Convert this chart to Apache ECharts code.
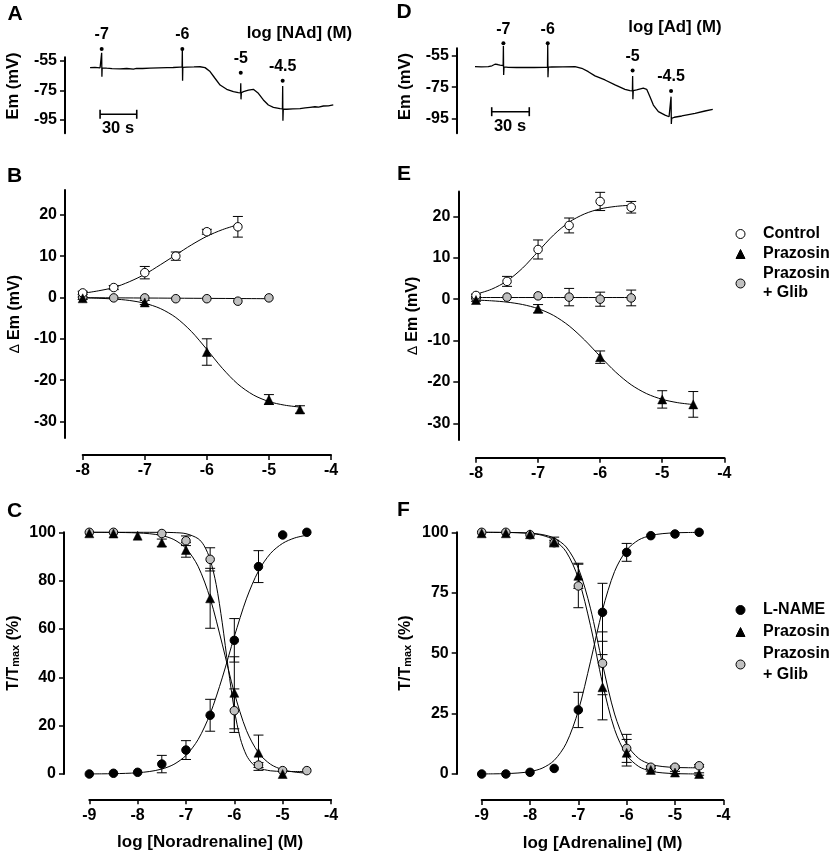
<!DOCTYPE html>
<html><head><meta charset="utf-8">
<script src="https://cdn.jsdelivr.net/npm/echarts@6/dist/echarts.min.js"></script>
<style>html,body{margin:0;padding:0;background:#fff}#c{width:833px;height:855px}</style>
</head><body><div id="c"></div>
<script>
// ---------- Panel A: membrane potential trace (noradrenaline) ----------
const traceA = [[0,-59.5],[4,-59.3],[8.2,-59.6],[9.3,-59.5],[9.5,-49.4],[9.7,-65.6],[9.9,-59.6],[13.6,-59.9],[18,-60.2],[24.5,-60.4],[30,-60.1],[35.5,-60.5],[38,-60.0],[43,-60.1],[49,-59.9],[56,-59.7],[63,-59.5],[68,-59.4],[73.6,-59.1],[75.3,-59.2],[75.5,-47.5],[75.7,-68.4],[75.9,-59.3],[79.1,-59.1],[85,-59.0],[90,-58.9],[94.1,-59.5],[98.2,-62.2],[102.2,-66.7],[106.4,-71.3],[111.8,-74.2],[117.3,-75.8],[121.3,-76.5],[123.1,-76.6],[123.3,-70.1],[123.5,-81.0],[123.8,-76.5],[125.5,-75.8],[129.6,-74.7],[133.6,-74.2],[137.7,-76.9],[141.8,-81.4],[145.9,-84.8],[150,-86.4],[155.5,-87.3],[157.4,-87.4],[157.6,-72.0],[157.8,-95.5],[158.1,-87.6],[160.9,-87.7],[166,-87.5],[171.8,-87.3],[176,-86.8],[180,-86.4],[184,-86.0],[187,-86.3],[190.9,-85.5],[195,-85.4],[199,-84.8]];
const injTimesA = [9.5, 75.5, 123.3, 157.6];
const injDotA = [-46.9, -46.9, -62.9, -68.4];
const injLabels = ['-7', '-6', '-5', '-4.5'];
const scaleBarA = [[8.2, -91.1], [38.2, -91.1]];
const emTicks = [-55, -75, -95];

// ---------- Panel D: membrane potential trace (adrenaline) ----------
const traceD = [[0,-61.9],[5,-62.0],[10.6,-61.9],[13.5,-61.3],[15.9,-60.3],[18,-60.5],[19.9,-60.9],[22.4,-61.2],[22.6,-48.6],[22.8,-67.2],[23.1,-62.0],[26.5,-62.3],[33,-62.4],[39.8,-62.3],[47,-62.4],[55.7,-62.3],[57.7,-62.3],[57.9,-47.9],[58.1,-68.7],[58.4,-62.2],[61.1,-62.1],[70,-62.0],[79.6,-61.9],[85,-62.9],[90.2,-65.1],[95.5,-67.8],[103.5,-70.4],[111.5,-73.6],[119.4,-76.4],[123.4,-77.3],[125.3,-77.4],[125.5,-67.8],[125.7,-82.8],[126,-77.3],[128.7,-76.8],[134,-75.7],[136.7,-76.4],[139.3,-81.1],[142,-86.5],[146,-90.7],[151.3,-92.9],[154.5,-94.0],[155.9,-94.1],[156.1,-81.1],[156.3,-98.6],[156.6,-95.0],[158.7,-94.3],[164.6,-93.5],[170,-92.6],[175.2,-91.8],[183.1,-90.3],[189.3,-89.2]];
const injTimesD = [22.6, 57.9, 125.5, 156.1];
const injDotD = [-46.85, -46.85, -64.4, -77.5];
const scaleBarD = [[13.3, -90.75], [43.2, -90.75]];

// ---------- Panel B: ΔEm, noradrenaline ----------
const bX_control = [-8,-7.5,-7,-6.5,-6,-5.5];
const bY_control = [1.1,2.4,6.0,10.0,15.9,17.1];
const bE_control = [0.4,0.5,1.5,1.0,0.6,2.5];
const bX_praz = [-8,-7,-6,-5,-4.5];
const bY_praz = [-0.2,-1.2,-13.2,-24.7,-27.1];
const bE_praz = [0.3,0.5,3.2,1.2,0.9];
const bX_glib = [-8,-7.5,-7,-6.5,-6,-5.5,-5];
const bY_glib = [0.0,-0.1,-0.1,-0.3,-0.3,-0.9,-0.1];
const bE_glib = [0,0,0,0,0,0,0];
const bFitX_control = [-8,-7.75,-7.5,-7.25,-7,-6.75,-6.5,-6.25,-6,-5.75,-5.5];
const bFitY_control = [1.0,1.6,2.4,3.8,5.6,7.9,10.3,12.7,14.8,16.4,17.6];
const bFitX_praz = [-8,-7.75,-7.5,-7.25,-7,-6.75,-6.5,-6.25,-6,-5.75,-5.5,-5.25,-5,-4.75,-4.5];
const bFitY_praz = [-0.09,-0.19,-0.37,-0.72,-1.41,-2.67,-4.85,-8.21,-12.57,-17.14,-20.96,-23.59,-25.18,-26.05,-26.52];
const bFitX_glib = [-8,-5];
const bFitY_glib = [-0.05,-0.3];

// ---------- Panel E: ΔEm, adrenaline ----------
const eX_control = [-8,-7.5,-7,-6.5,-6,-5.5];
const eY_control = [0.9,4.3,12.0,17.8,23.6,22.2];
const eE_control = [0.3,1.2,2.3,1.8,2.2,1.4];
const eX_praz = [-8,-7,-6,-5,-4.5];
const eY_praz = [-0.2,-2.3,-14.0,-24.2,-25.4];
const eE_praz = [0.3,1.0,1.5,2.1,3.1];
const eX_glib = [-8,-7.5,-7,-6.5,-6,-5.5];
const eY_glib = [0.3,0.5,0.8,0.5,0.0,0.3];
const eE_glib = [0,0,0,2.1,1.7,1.9];
const eFitX_control = [-8,-7.75,-7.5,-7.25,-7,-6.75,-6.5,-6.25,-6,-5.75,-5.5];
const eFitY_control = [1.2,2.4,4.4,7.5,11.5,15.5,18.6,20.6,21.8,22.4,22.7];
const eFitX_praz = [-8,-7.75,-7.5,-7.25,-7,-6.75,-6.5,-6.25,-6,-5.75,-5.5,-5.25,-5,-4.75,-4.5];
const eFitY_praz = [-0.21,-0.39,-0.71,-1.29,-2.28,-3.93,-6.45,-9.86,-13.80,-17.60,-20.67,-22.82,-24.18,-24.99,-25.44];
const eFitX_glib = [-8,-5.5];
const eFitY_glib = [0.4,0.4];

// ---------- Panel C: tension, noradrenaline ----------
const cX_lname = [-9,-8.5,-8,-7.5,-7,-6.5,-6,-5.5,-5,-4.5];
const cY_lname = [0.0,0.3,0.7,4.1,9.9,24.3,55.3,85.8,98.9,100.0];
const cE_lname = [0,0,0,3.6,3.9,6.6,9.0,6.6,0,0];
const cX_praz = [-9,-8.5,-8,-7.5,-7,-6.5,-6,-5.5,-5];
const cY_praz = [99.6,99.5,98.6,95.7,92.7,72.7,33.6,8.8,0.0];
const cE_praz = [0,0,0,1.5,3.0,12.4,14.9,7.3,0];
const cX_glib = [-9,-8.5,-7.5,-7,-6.5,-6,-5.5,-5,-4.5];
const cY_glib = [100,100,99.5,96.5,88.8,26.2,3.7,1.4,1.4];
const cE_glib = [0,0,0,2.0,4.8,9.0,1.0,0,0];
const fitX_q = [-9,-8.75,-8.5,-8.25,-8,-7.75,-7.5,-7.25,-7,-6.75,-6.5,-6.25,-6,-5.75,-5.5,-5.25,-5,-4.75,-4.5];
const cFitY_lname = [0.03,0.07,0.13,0.26,0.52,1.04,2.05,4.00,7.68,14.23,24.87,39.78,56.86,72.46,84.0,91.28,95.43,97.66,98.81];
const cFitY_praz = [100.0,99.98,99.95,99.89,99.74,99.41,98.67,96.99,93.34,85.95,72.7,53.73,33.6,18.07,8.77,4.02,1.79,0.79,0.35];
const cFitX_glib = [-9,-8.5,-8,-7.5,-7.25,-7,-6.75,-6.625,-6.5,-6.375,-6.25,-6.125,-6,-5.875,-5.75,-5.625,-5.5,-5.25,-5,-4.5];
const cFitY_glib = [100,100,100,99.97,99.88,99.43,97.38,94.48,88.73,78.37,62.56,43.62,26.53,14.64,7.78,4.24,2.51,1.32,1.07,1.0];

// ---------- Panel F: tension, adrenaline ----------
const fX = [-9,-8.5,-8,-7.5,-7,-6.5,-6,-5.5,-5,-4.5];
const fY_lname = [0.0,0.0,0.7,2.3,26.5,66.9,91.7,98.6,99.3,100.0];
const fE_lname = [0,0,0,0,7.3,12.0,3.7,0,0,0];
const fY_praz = [99.6,99.6,99.2,96.0,82.0,35.9,8.8,1.7,0.6,0.0];
const fE_praz = [0,0,0,2.0,5.2,13.5,5.5,0.5,0.5,0.5];
const fY_glib = [100,100,99.0,95.7,77.8,45.8,10.6,2.8,2.8,3.4];
const fE_glib = [0,0,0,1.0,9.0,13.0,5.8,0.5,0.5,0.5];
const fFitY_lname = [0.03,0.07,0.17,0.41,0.99,2.39,5.63,12.7,26.2,46.4,67.9,83.8,92.65,96.85,98.68,99.46,99.78,99.91,99.96];
const fFitY_praz = [100,99.98,99.93,99.82,99.53,98.77,96.79,91.89,80.97,61.54,37.55,18.43,7.82,3.09,1.18,0.45,0.17,0.06,0.02];
const fFitY_glib = [99.99,99.98,99.95,99.87,99.65,99.08,97.6,93.9,85.2,68.6,45.55,24.8,12.3,6.43,4.01,3.07,2.72,2.6,2.55];

const yTicksB = [-30,-20,-10,0,10,20];

// ---------- rendering ----------
const FONT = '"Liberation Sans", Arial, Helvetica, sans-serif';
const BOLD16 = {fontFamily: FONT, fontWeight: 'bold', fontSize: 16, color: '#000'};
const BOLD17 = {fontFamily: FONT, fontWeight: 'bold', fontSize: 17, color: '#000'};
const GLIB_NAME = 'Prazosin\n+ Glib';
const GRAY = '#c0c0c0';

const zip = (xs, ys) => xs.map((x, i) => [x, ys[i]]);
const zip3 = (xs, ys, es) => xs.map((x, i) => [x, ys[i], es[i]]);

function axisCommon(extra) {
  return Object.assign({
    type: 'value',
    splitLine: {show: false},
    axisLine: {show: true, onZero: false, lineStyle: {color: '#000', width: 2}},
    axisTick: {show: true, length: 5, lineStyle: {color: '#000', width: 1.5}},
    axisLabel: Object.assign({margin: 8}, BOLD16)
  }, extra);
}

function fitLine(gi, xs, ys) {
  return {type: 'line', xAxisIndex: gi, yAxisIndex: gi, data: zip(xs, ys), smooth: 0.3,
    symbol: 'none', silent: true, clip: false, lineStyle: {color: '#000', width: 1}, z: 2};
}
function errBars(gi, xs, ys, es) {
  return {type: 'custom', xAxisIndex: gi, yAxisIndex: gi, data: zip3(xs, ys, es), clip: false, z: 3, silent: true,
    renderItem: function (params, api) {
      const x = api.value(0), y = api.value(1), e = api.value(2);
      if (!(e > 0)) return null;
      const p1 = api.coord([x, y + e]), p2 = api.coord([x, y - e]);
      const w = 5, st = {stroke: '#000', lineWidth: 1};
      return {type: 'group', children: [
        {type: 'line', shape: {x1: p1[0], y1: p1[1], x2: p2[0], y2: p2[1]}, style: st},
        {type: 'line', shape: {x1: p1[0] - w, y1: p1[1], x2: p1[0] + w, y2: p1[1]}, style: st},
        {type: 'line', shape: {x1: p2[0] - w, y1: p2[1], x2: p2[0] + w, y2: p2[1]}, style: st}
      ]};
    }};
}
const STYLES = {
  'Control': {symbol: 'circle', symbolSize: 8.5, itemStyle: {color: '#fff', borderColor: '#000', borderWidth: 1, opacity: 1}},
  'Prazosin': {symbol: 'triangle', symbolSize: 9, itemStyle: {color: '#000', borderColor: '#000', borderWidth: 0.5, opacity: 1}},
  [GLIB_NAME]: {symbol: 'circle', symbolSize: 8.5, itemStyle: {color: GRAY, borderColor: '#000', borderWidth: 1, opacity: 1}},
  'L-NAME': {symbol: 'circle', symbolSize: 8.5, itemStyle: {color: '#000', borderColor: '#000', borderWidth: 1, opacity: 1}}
};
function points(gi, name, xs, ys) {
  return Object.assign({type: 'scatter', name: name, xAxisIndex: gi, yAxisIndex: gi, data: zip(xs, ys),
    clip: false, z: 4, silent: true}, STYLES[name]);
}
function injSeries(gi, times, dots) {
  return {type: 'scatter', xAxisIndex: gi, yAxisIndex: gi, data: zip(times, dots), symbol: 'circle', symbolSize: 4,
    itemStyle: {color: '#000', opacity: 1}, clip: false, silent: true, z: 5,
    label: Object.assign({show: true, position: 'top', distance: 4, formatter: p => injLabels[p.dataIndex]}, BOLD16)};
}
function traceSeries(gi, data) {
  return {type: 'line', xAxisIndex: gi, yAxisIndex: gi, data: data, symbol: 'none', clip: false, silent: true,
    lineStyle: {color: '#000', width: 1.3}};
}
function scaleBar(gi, data) {
  return {type: 'line', xAxisIndex: gi, yAxisIndex: gi, data: data, symbol: 'rect', symbolSize: [1.6, 9], clip: false,
    silent: true, itemStyle: {color: '#000', opacity: 1}, lineStyle: {color: '#000', width: 1.6}};
}

const grids = [
  {left: 65, top: 57.3, width: 269.5, height: 76},
  {left: 456.8, top: 48.3, width: 269.4, height: 85},
  {left: 82.7, top: 190, width: 248.3, height: 248},
  {left: 476, top: 191.5, width: 248.3, height: 248.5},
  {left: 89.3, top: 532.3, width: 241.7, height: 241.7},
  {left: 481.7, top: 532.3, width: 241.6, height: 241.7}
].map(g => Object.assign({containLabel: false, outerBoundsMode: 'none'}, g));

const xAxes = [
  axisCommon({gridIndex: 0, min: -20.5, max: 200, show: false}),
  axisCommon({gridIndex: 1, min: -14.5, max: 200, show: false}),
  axisCommon({gridIndex: 2, min: -8, max: -4, interval: 1, offset: 17}),
  axisCommon({gridIndex: 3, min: -8, max: -4, interval: 1, offset: 17.7}),
  axisCommon({gridIndex: 4, min: -9, max: -4, interval: 1, offset: 25.3,
    name: 'log [Noradrenaline] (M)', nameLocation: 'middle', nameGap: 34.5, nameTextStyle: BOLD17}),
  axisCommon({gridIndex: 5, min: -9, max: -4, interval: 1, offset: 26,
    name: 'log [Adrenaline] (M)', nameLocation: 'middle', nameGap: 34.5, nameTextStyle: BOLD17})
];
const dName = {name: '{d|\u2206} Em (mV)', nameLocation: 'middle',
  nameTextStyle: Object.assign({rich: {d: {fontFamily: FONT, fontWeight: 'normal', fontSize: 14, color: '#000'}}}, BOLD16)};
const tName = {name: 'T/T{s|max} (%)', nameLocation: 'middle',
  nameTextStyle: Object.assign({rich: {s: {fontFamily: FONT, fontWeight: 'bold', fontSize: 11, color: '#000',
    verticalAlign: 'bottom', lineHeight: 11, padding: [9, 0, 0, 0]}}}, BOLD16)};
const yAxes = [
  axisCommon({gridIndex: 0, min: -104, max: -52.5,
    axisTick: {show: true, length: 5, customValues: emTicks, lineStyle: {color: '#000', width: 1.5}},
    axisLabel: Object.assign({margin: 8, customValues: emTicks}, BOLD16)}),
  axisCommon({gridIndex: 1, min: -104.6, max: -50.1,
    axisTick: {show: true, length: 5, customValues: emTicks, lineStyle: {color: '#000', width: 1.5}},
    axisLabel: Object.assign({margin: 8, customValues: emTicks}, BOLD16)}),
  axisCommon(Object.assign({gridIndex: 2, min: -34, max: 26, offset: 17.7, nameGap: 42,
    axisTick: {show: true, length: 5, customValues: yTicksB, lineStyle: {color: '#000', width: 1.5}},
    axisLabel: Object.assign({margin: 8, customValues: yTicksB}, BOLD16)}, dName)),
  axisCommon(Object.assign({gridIndex: 3, min: -34, max: 26, offset: 17.7, nameGap: 37.5,
    axisTick: {show: true, length: 5, customValues: yTicksB, lineStyle: {color: '#000', width: 1.5}},
    axisLabel: Object.assign({margin: 8, customValues: yTicksB}, BOLD16)}, dName)),
  axisCommon(Object.assign({gridIndex: 4, min: 0, max: 100, interval: 20, offset: 25.3, nameGap: 42.5}, tName)),
  axisCommon(Object.assign({gridIndex: 5, min: 0, max: 100, interval: 25, offset: 25, nameGap: 43.5}, tName))
];

const series = [
  traceSeries(0, traceA), scaleBar(0, scaleBarA), injSeries(0, injTimesA, injDotA),
  traceSeries(1, traceD), scaleBar(1, scaleBarD), injSeries(1, injTimesD, injDotD),
  // B
  fitLine(2, bFitX_control, bFitY_control), fitLine(2, bFitX_praz, bFitY_praz), fitLine(2, bFitX_glib, bFitY_glib),
  errBars(2, bX_control, bY_control, bE_control), errBars(2, bX_praz, bY_praz, bE_praz), errBars(2, bX_glib, bY_glib, bE_glib),
  points(2, GLIB_NAME, bX_glib, bY_glib), points(2, 'Control', bX_control, bY_control), points(2, 'Prazosin', bX_praz, bY_praz),
  // E
  fitLine(3, eFitX_control, eFitY_control), fitLine(3, eFitX_praz, eFitY_praz), fitLine(3, eFitX_glib, eFitY_glib),
  errBars(3, eX_control, eY_control, eE_control), errBars(3, eX_praz, eY_praz, eE_praz), errBars(3, eX_glib, eY_glib, eE_glib),
  points(3, GLIB_NAME, eX_glib, eY_glib), points(3, 'Control', eX_control, eY_control), points(3, 'Prazosin', eX_praz, eY_praz),
  // C
  fitLine(4, fitX_q, cFitY_lname), fitLine(4, fitX_q, cFitY_praz), fitLine(4, cFitX_glib, cFitY_glib),
  errBars(4, cX_lname, cY_lname, cE_lname), errBars(4, cX_praz, cY_praz, cE_praz), errBars(4, cX_glib, cY_glib, cE_glib),
  points(4, 'L-NAME', cX_lname, cY_lname), points(4, GLIB_NAME, cX_glib, cY_glib), points(4, 'Prazosin', cX_praz, cY_praz),
  // F
  fitLine(5, fitX_q, fFitY_lname), fitLine(5, fitX_q, fFitY_praz), fitLine(5, fitX_q, fFitY_glib),
  errBars(5, fX, fY_lname, fE_lname), errBars(5, fX, fY_praz, fE_praz), errBars(5, fX, fY_glib, fE_glib),
  points(5, 'L-NAME', fX, fY_lname), points(5, GLIB_NAME, fX, fY_glib), points(5, 'Prazosin', fX, fY_praz)
];

function legendOf(top, names, lh) {
  return {orient: 'vertical', left: 735.5, top: top, padding: 0, itemWidth: 9, itemHeight: 9, itemGap: 1,
    selectedMode: false, symbolKeepAspect: true, data: names,
    textStyle: Object.assign({lineHeight: lh, padding: [0, 0, 0, 13]}, BOLD16),
    itemStyle: {borderColor: '#000', borderWidth: 1}};
}
const legends = [
  legendOf(224.5, ['Control', 'Prazosin', GLIB_NAME], 19),
  legendOf(599.5, ['L-NAME', 'Prazosin', GLIB_NAME], 21)
];

function txt(x, y, text, size, extra, align) {
  return Object.assign({type: 'text', x: x, y: y, silent: true,
    style: {text: text, fontFamily: FONT, fontWeight: 'bold', fontSize: size, fill: '#000', align: align || 'center', verticalAlign: 'middle'}}, extra || {});
}
const graphics = [
  txt(15, 14, 'A', 21), txt(14.5, 176, 'B', 21), txt(14.5, 511.5, 'C', 21),
  txt(404, 12.5, 'D', 21), txt(404, 174, 'E', 21), txt(403.5, 510.5, 'F', 21),
  txt(246.7, 33, 'log [NAd] (M)', 16.8, null, 'left'),
  txt(628.3, 27.3, 'log [Ad] (M)', 16.8, null, 'left'),
  txt(118, 128, '30 s', 16.5), txt(510, 126, '30 s', 16.5),
  txt(13.5, 86, 'Em (mV)', 16.5, {rotation: Math.PI / 2}),
  txt(405.5, 86.5, 'Em (mV)', 16.5, {rotation: Math.PI / 2})
];

const chart = echarts.init(document.getElementById('c'), null, {renderer: 'canvas'});
chart.setOption({
  animation: false,
  backgroundColor: '#fff',
  textStyle: {fontFamily: FONT},
  grid: grids, xAxis: xAxes, yAxis: yAxes, series: series, legend: legends, graphic: graphics,
  tooltip: {show: false}
});
</script></body></html>
